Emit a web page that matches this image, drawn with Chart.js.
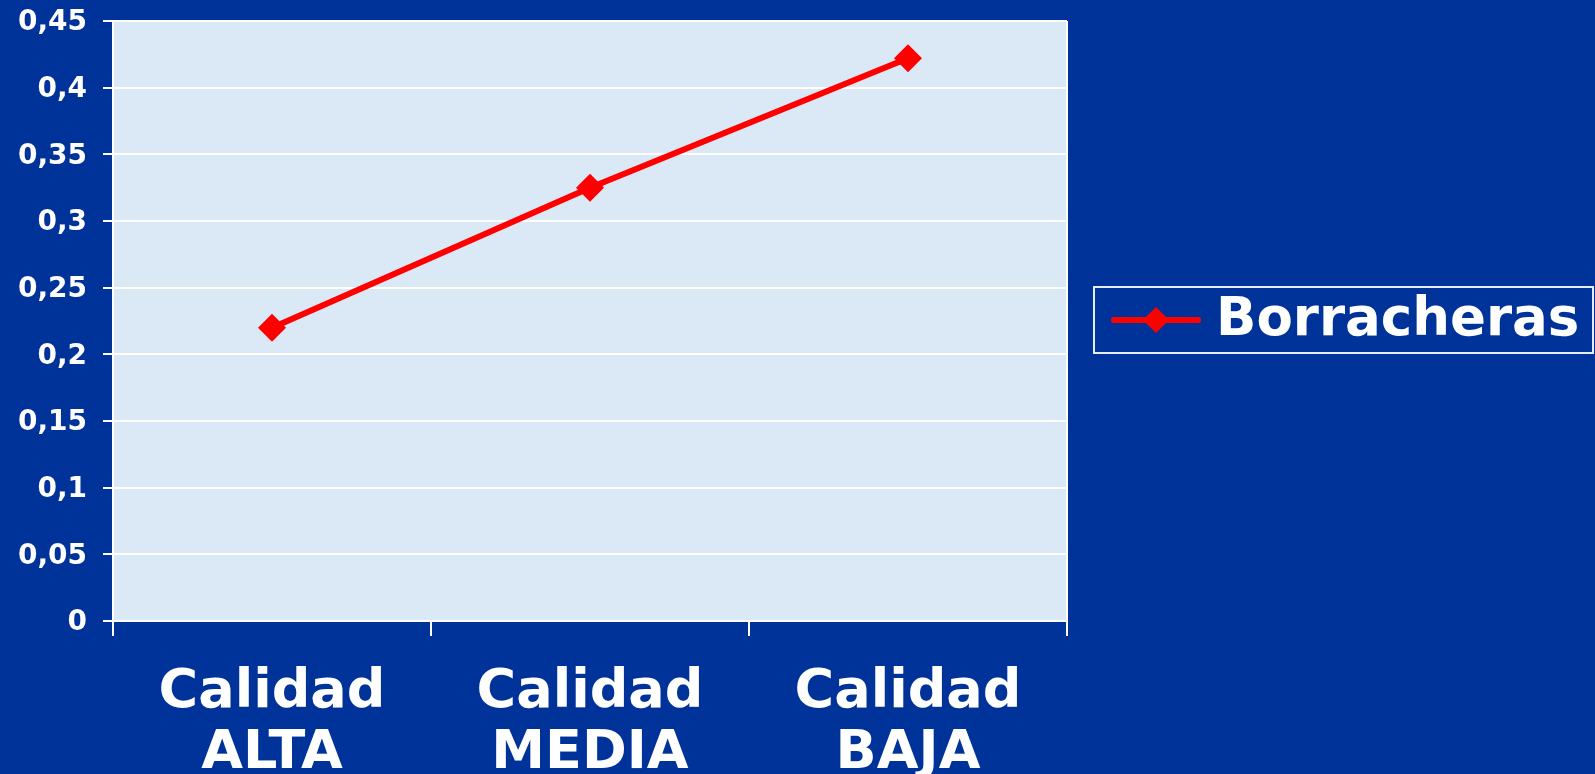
<!DOCTYPE html>
<html>
<head>
<meta charset="utf-8">
<script src="https://cdn.jsdelivr.net/npm/chart.js@4.4.1/dist/chart.umd.min.js"></script>
<style>
  html, body { margin: 0; padding: 0; background: #003399; overflow: hidden; }
  #wrap { width: 1595px; height: 774px; position: relative; }
</style>
</head>
<body>
<div id="wrap"><canvas id="chart"></canvas></div>
<script>
// ---- data ----
const categories = [['Calidad', 'ALTA'], ['Calidad', 'MEDIA'], ['Calidad', 'BAJA']];
const seriesName = 'Borracheras';
const borracheras = [0.22, 0.325, 0.422];
const yTickLabels = ['0', '0,05', '0,1', '0,15', '0,2', '0,25', '0,3', '0,35', '0,4', '0,45'];

const FONT = '"DejaVu Sans", Verdana, sans-serif';
const LINE_RED = '#ff0000';

// plot background + right border
const plotBackground = {
    id: 'plotBackground',
    beforeDraw(chart) {
        const { ctx, chartArea: a } = chart;
        ctx.save();
        ctx.fillStyle = '#dbe8f6';
        ctx.fillRect(a.left, a.top, a.right - a.left, a.bottom - a.top);
        ctx.restore();
    },
    afterDatasetsDraw(chart) {
        const { ctx, chartArea: a } = chart;
        ctx.save();
        ctx.strokeStyle = '#ffffff';
        ctx.lineWidth = 2;
        ctx.beginPath();
        ctx.moveTo(a.right, a.top);
        ctx.lineTo(a.right, a.bottom);
        ctx.stroke();
        ctx.restore();
    }
};

// legend on the right, boxed, line + diamond like the original
const boxedLegend = {
    id: 'boxedLegend',
    afterDraw(chart) {
        const ctx = chart.ctx;
        const ds = chart.data.datasets[0];
        const x = 1094, y = 287, w = 499, h = 66;
        const cy = y + h / 2;
        ctx.save();
        ctx.strokeStyle = '#e6ecf6';
        ctx.lineWidth = 2;
        ctx.strokeRect(x, y, w, h);

        ctx.strokeStyle = ds.borderColor;
        ctx.lineWidth = 6;
        ctx.lineCap = 'round';
        ctx.beginPath();
        ctx.moveTo(1114, cy);
        ctx.lineTo(1198, cy);
        ctx.stroke();

        const mx = 1156, r = 13;
        ctx.fillStyle = ds.borderColor;
        ctx.beginPath();
        ctx.moveTo(mx - r, cy);
        ctx.lineTo(mx, cy - r);
        ctx.lineTo(mx + r, cy);
        ctx.lineTo(mx, cy + r);
        ctx.closePath();
        ctx.fill();

        ctx.fillStyle = '#ffffff';
        ctx.font = 'bold 53px ' + FONT;
        ctx.textBaseline = 'middle';
        ctx.textAlign = 'left';
        ctx.fillText(ds.label, 1216, cy + 1);
        ctx.restore();
    }
};

new Chart(document.getElementById('chart'), {
    type: 'line',
    data: {
        labels: categories,
        datasets: [{
            label: seriesName,
            data: borracheras,
            borderColor: LINE_RED,
            backgroundColor: LINE_RED,
            borderWidth: 6,
            tension: 0,
            pointStyle: 'rectRot',
            pointRadius: 14,
            pointHoverRadius: 14,
            pointBackgroundColor: LINE_RED,
            pointBorderColor: LINE_RED,
            pointBorderWidth: 0,
            clip: false
        }]
    },
    options: {
        responsive: true,
        maintainAspectRatio: false,
        animation: false,
        events: [],
        layout: { padding: { top: 21, right: 528, bottom: 0, left: 0 } },
        plugins: {
            legend: { display: false },
            tooltip: { enabled: false }
        },
        scales: {
            x: {
                offset: true,
                grid: {
                    offset: true,
                    drawOnChartArea: false,
                    drawTicks: true,
                    tickLength: 15,
                    color: '#ffffff',
                    lineWidth: 2
                },
                border: { display: true, color: '#ffffff', width: 2 },
                ticks: {
                    color: '#ffffff',
                    padding: 27,
                    maxRotation: 0,
                    autoSkip: false,
                    font: { family: FONT, size: 54, weight: 'bold', lineHeight: 1.12 }
                },
                afterFit(scale) {
                    scale.height = 774 - 621;
                    scale.paddingTop = 0;
                    scale.paddingBottom = 0;
                }
            },
            y: {
                min: 0,
                max: 0.45,
                ticks: {
                    stepSize: 0.05,
                    color: '#ffffff',
                    padding: 16,
                    labelOffset: 2,
                    font: { family: FONT, size: 28, weight: 'bold' },
                    callback: (v, i) => yTickLabels[i] ?? v
                },
                grid: {
                    color: '#ffffff',
                    lineWidth: 2,
                    drawTicks: true,
                    tickLength: 10
                },
                border: { display: true, color: '#ffffff', width: 2 },
                afterFit(scale) {
                    scale.width = 113;
                    scale.paddingTop = 0;
                    scale.paddingBottom = 0;
                }
            }
        }
    },
    plugins: [plotBackground, boxedLegend]
});
</script>
</body>
</html>
